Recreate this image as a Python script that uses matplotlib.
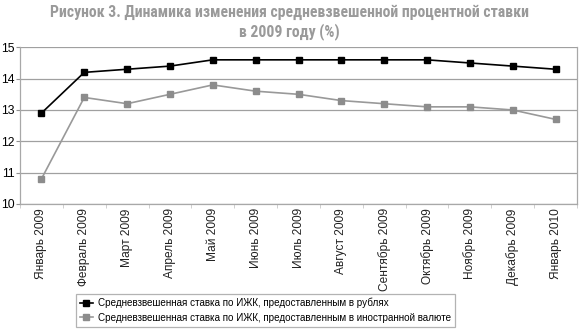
import matplotlib.pyplot as plt
import numpy as np

months = ['Январь 2009', 'Февраль 2009', 'Март 2009', 'Апрель 2009', 'Май 2009',
          'Июнь 2009', 'Июль 2009', 'Август 2009', 'Сентябрь 2009', 'Октябрь 2009',
          'Ноябрь 2009', 'Декабрь 2009', 'Январь 2010']
rub_rate = [12.9, 14.2, 14.3, 14.4, 14.6, 14.6, 14.6, 14.6, 14.6, 14.6, 14.5, 14.4, 14.3]
fx_rate = [10.8, 13.4, 13.2, 13.5, 13.8, 13.6, 13.5, 13.3, 13.2, 13.1, 13.1, 13.0, 12.7]
yticks = [10, 11, 12, 13, 14, 15]

plt.rcParams['font.family'] = ['Liberation Sans', 'DejaVu Sans']

W, H = 583, 333
fig = plt.figure(figsize=(W / 100, H / 100), dpi=100)
ax = fig.add_axes([20 / W, 1 - 204 / H, 557 / W, (204 - 47.3) / H])

x = np.arange(len(months))
l1, = ax.plot(x, rub_rate, color='black', lw=1.2, marker='s', ms=4,
              label='Средневзвешенная ставка по ИЖК, предоставленным в рублях')
l2, = ax.plot(x, fx_rate, color='#999999', lw=1.2, marker='s', ms=4, mfc='#8c8c8c', mec='#8c8c8c',
              label='Средневзвешенная ставка по ИЖК, предоставленным в иностранной валюте')

ax.set_xlim(-0.5, len(months) - 0.5)
ax.set_ylim(10, 15)
ax.set_yticks(yticks)
ax.yaxis.grid(True, color='#a0a0a0', lw=0.9)
ax.set_axisbelow(True)
ax.set_xticks(x)
ax.set_xticklabels(months, rotation=90, fontsize=8.6, color='#222222')
ax.set_xticks(np.arange(-0.5, len(months), 1), minor=True)
ax.tick_params(axis='x', which='major', length=0, pad=3)
ax.tick_params(axis='x', which='minor', length=3, color='#c8c8c8')
ax.tick_params(axis='y', length=3, color='#909090', labelsize=8.8, pad=1)
for s in ax.spines.values():
    s.set_color('#a8a8a8')
    s.set_linewidth(0.9)
ax.spines['top'].set_visible(False)

title_font = dict(ha='center', va='center', fontsize=11.3, fontweight='bold', color='#9a9a9a',
                  family=['Roboto Condensed', 'DejaVu Sans'])
fig.text(0.496, 1 - 12 / H, 'Рисунок 3. Динамика изменения средневзвешенной процентной ставки', **title_font)
fig.text(0.496, 1 - 32 / H, 'в 2009 году (%)', **title_font)

leg = fig.legend(handles=[l1, l2], loc='upper left', bbox_to_anchor=(76 / W, 1 - 294 / H),
                 fontsize=7.1, frameon=True, fancybox=False, handlelength=1.3,
                 handletextpad=0.5, borderpad=0.4, labelspacing=0.45, borderaxespad=0)
leg.get_frame().set_edgecolor('#a0a0a0')
leg.get_frame().set_linewidth(0.9)

fig.savefig('out.png', dpi=100)
